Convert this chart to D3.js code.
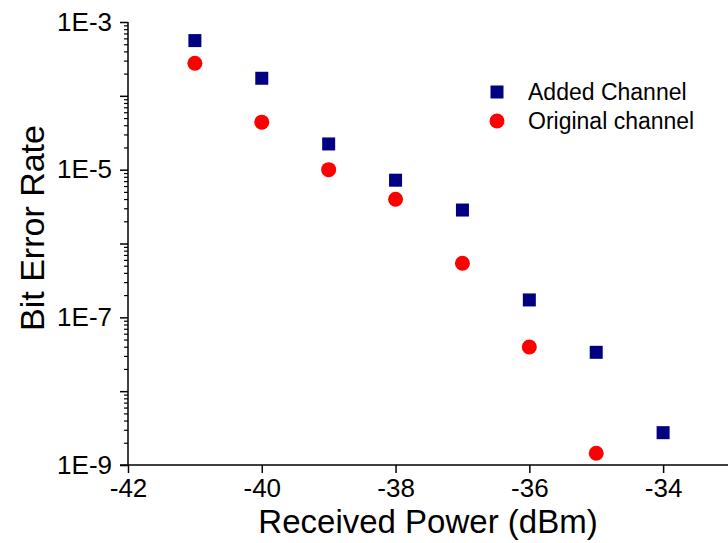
<!DOCTYPE html>
<html>
<head>
<meta charset="utf-8">
<script src="https://cdn.jsdelivr.net/npm/d3@7"></script>
<style>
  html, body { margin: 0; padding: 0; background: #fff; }
  svg { display: block; }
  text { font-family: "Liberation Sans", Arial, sans-serif; fill: #000; }
</style>
</head>
<body>
<svg id="chart" width="728" height="543"></svg>
<script>
// ---- data ----
const addedX = [-41, -40, -39, -38, -37, -36, -35, -34];
const addedBER = [5.6e-4, 1.73e-4, 2.23e-5, 7.2e-6, 2.84e-6, 1.72e-7, 3.36e-8, 2.74e-9];
const originalX = [-41, -40, -39, -38, -37, -36, -35];
const originalBER = [2.76e-4, 4.4e-5, 1.0e-5, 3.97e-6, 5.4e-7, 3.96e-8, 1.44e-9];
const xTickValues = [-42, -40, -38, -36, -34];
const yMajorExponents = [-9, -8, -7, -6, -5, -4, -3];
const yLabeledExponents = [-9, -7, -5, -3];
const seriesNames = ["Added Channel", "Original channel"];
const xTitle = "Received Power (dBm)";
const yTitle = "Bit Error Rate";

(function () {
// ---- layout ----
const mLeft = 128, mRight = 730, mTop = 22, mBottom = 465;
const svg = d3.select("#chart");

const x = d3.scaleLinear().domain([-42, -33]).range([mLeft, mRight]);
const y = d3.scaleLog().domain([1e-9, 1e-3]).range([mBottom, mTop]);

// minor y ticks
const minorVals = [];
for (let e = -9; e < -3; e++) {
  for (let m = 2; m <= 9; m++) minorVals.push(m * Math.pow(10, e));
}
const gMinor = svg.append("g").attr("transform", `translate(${mLeft},0)`)
  .call(d3.axisLeft(y).tickValues(minorVals).tickSize(4).tickFormat(""));
gMinor.select(".domain").remove();
gMinor.selectAll("line").attr("stroke", "#000").attr("stroke-width", 1.2);

// major y ticks
const majorVals = yMajorExponents.map(e => Math.pow(10, e));
const gy = svg.append("g").attr("transform", `translate(${mLeft},0)`)
  .call(d3.axisLeft(y).tickValues(majorVals).tickSize(8).tickPadding(8)
    .tickFormat(d => {
      const e = Math.round(Math.log10(d));
      return yLabeledExponents.includes(e) ? "1E" + e : "";
    }));
gy.select(".domain").attr("stroke", "#000").attr("stroke-width", 1.5).attr("d", `M0,${mBottom}V${mTop}`);
gy.selectAll("line").attr("stroke", "#000").attr("stroke-width", 1.5);
gy.selectAll("text").attr("font-size", 26).attr("font-family", '"Liberation Sans", Arial, sans-serif').attr("fill", "#000");

// x axis
const gx = svg.append("g").attr("transform", `translate(0,${mBottom})`)
  .call(d3.axisBottom(x).tickValues(xTickValues).tickSize(8).tickPadding(6).tickFormat(d => String(d)));
gx.select(".domain").attr("stroke", "#000").attr("stroke-width", 1.5).attr("d", `M${mLeft - 8},0H${mRight}`);
gx.selectAll("line").attr("stroke", "#000").attr("stroke-width", 1.5);
gx.selectAll("text").attr("font-size", 26).attr("font-family", '"Liberation Sans", Arial, sans-serif').attr("fill", "#000");

// titles
svg.append("text").attr("x", (mLeft + 728) / 2).attr("y", 533)
  .attr("text-anchor", "middle").attr("font-size", 33).text(xTitle);
svg.append("text").attr("transform", `translate(44,228) rotate(-90)`)
  .attr("text-anchor", "middle").attr("font-size", 34).text(yTitle);

// series
const sq = 13, r = 7.5;
svg.append("g").selectAll("rect").data(addedX.map((v, i) => [v, addedBER[i]]))
  .join("rect")
  .attr("x", d => x(d[0]) - sq / 2).attr("y", d => y(d[1]) - sq / 2)
  .attr("width", sq).attr("height", sq).attr("fill", "#000080");
svg.append("g").selectAll("circle").data(originalX.map((v, i) => [v, originalBER[i]]))
  .join("circle")
  .attr("cx", d => x(d[0])).attr("cy", d => y(d[1])).attr("r", r).attr("fill", "#ff0000");

// legend
const lg = svg.append("g");
lg.append("rect").attr("x", 497 - sq / 2).attr("y", 92 - sq / 2).attr("width", sq).attr("height", sq).attr("fill", "#000080");
lg.append("circle").attr("cx", 497).attr("cy", 121).attr("r", r).attr("fill", "#ff0000");
lg.append("text").attr("x", 528).attr("y", 100).attr("font-size", 23).text(seriesNames[0]);
lg.append("text").attr("x", 528).attr("y", 129).attr("font-size", 23).text(seriesNames[1]);
})();
</script>
</body>
</html>
